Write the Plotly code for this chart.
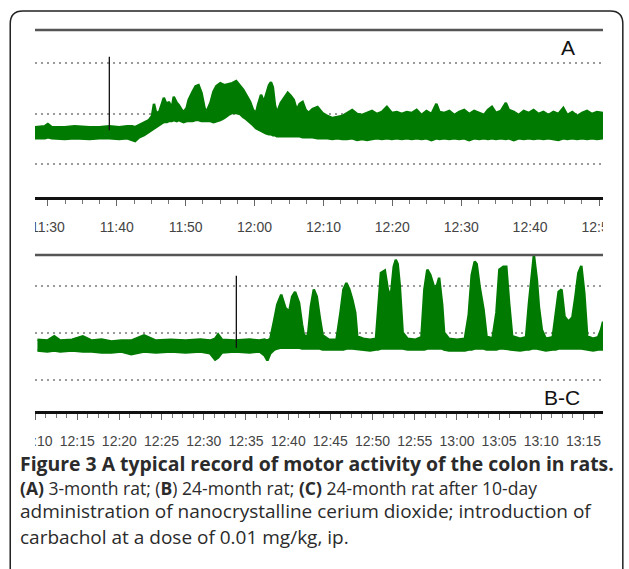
import pandas as pd
import plotly.graph_objects as go

# ---------------- data ----------------
# Panel A: minutes after 11:00, upper / lower envelope of the recorded signal (arb. units)
a_minutes = [28.13, 29.57, 30.0, 30.58, 32.45, 33.88, 36.04, 37.48, 38.92, 40.36, 41.51, 42.23, 42.66,
             43.24, 43.96, 44.68, 45.11, 45.40, 45.68, 46.12, 46.55, 46.83, 47.27, 47.55, 47.99, 48.27,
             48.71, 48.99, 49.42, 49.71, 50.14, 50.43, 51.0, 51.44, 51.87, 52.30, 52.74, 53.02, 53.60,
             54.03, 54.46, 55.03, 55.61, 56.19, 56.76, 57.34, 57.91, 58.35, 58.78, 59.35, 59.78, 60.22,
             60.50, 60.94, 61.37, 61.66, 62.09, 62.38, 62.66, 62.95, 63.24, 63.81, 64.39, 64.82, 65.25,
             65.69, 66.12, 66.55, 66.98, 67.41, 67.84, 68.42, 69.14, 69.86, 70.58, 71.30, 72.01, 72.73,
             73.45, 74.17, 74.89, 75.61, 76.33, 77.05, 77.77, 78.49, 79.21, 79.93, 80.65, 81.37, 82.09,
             82.81, 83.53, 84.24, 84.96, 85.68, 86.40, 86.83, 87.55, 88.27, 88.99, 89.71, 90.43, 91.15,
             91.87, 92.59, 93.31, 93.88, 94.46, 95.04, 95.76, 96.48, 96.91, 97.63, 98.35, 99.07, 99.78,
             100.50, 101.22, 101.94, 102.66, 103.38, 104.10, 104.82, 105.40, 106.12, 106.83, 107.55,
             108.27, 108.99, 109.71, 110.58]
a_upper = [7.3, 7.5, 7.9, 7.3, 7.3, 7.5, 7.3, 7.3, 7.5, 7.3, 7.5, 7.5, 7.3,
           7.7, 8.1, 8.7, 9.5, 11.9, 10.3, 10.1, 11.9, 13.1, 11.7, 12.3, 11.1, 13.3,
           12.1, 11.7, 10.7, 10.3, 11.1, 12.7, 14.3, 15.4, 15.6, 14.1, 11.1, 10.3, 12.1,
           14.3, 15.4, 16.0, 15.6, 15.8, 16.0, 16.4, 15.4, 14.7, 13.7, 12.3, 10.7, 10.1,
           11.7, 13.7, 12.3, 13.5, 15.6, 16.2, 15.2, 11.7, 10.1, 12.1, 13.3, 14.1, 13.5,
           12.7, 10.7, 11.9, 12.3, 10.7, 10.1, 10.9, 11.3, 10.1, 9.5, 9.1, 9.3, 9.5,
           10.1, 10.7, 9.9, 9.7, 10.1, 10.5, 9.9, 10.3, 11.3, 10.1, 10.3, 9.9, 10.3,
           10.1, 10.7, 9.7, 10.5, 9.9, 11.9, 10.3, 10.1, 10.5, 9.7, 10.3, 10.7, 9.9,
           10.5, 10.1, 9.7, 10.7, 11.3, 10.1, 10.5, 12.1, 10.7, 10.3, 9.7, 10.5, 10.1,
           10.7, 9.9, 10.3, 9.7, 10.3, 9.9, 11.1, 9.7, 10.3, 9.5, 10.1,
           10.5, 9.9, 10.3, 10.1]
a_lower = [5.1, 5.1, 5.3, 5.1, 4.95, 5.1, 4.95, 5.1, 5.1, 4.95, 5.1, 4.75, 4.55,
           5.3, 5.7, 6.3, 6.7, 7.1, 7.3, 7.7, 8.1, 8.3, 8.3, 8.5, 8.5, 8.7,
           8.5, 8.7, 8.5, 8.3, 8.5, 8.5, 8.5, 8.7, 8.7, 8.5, 8.5, 8.5, 8.5,
           8.3, 8.5, 8.7, 9.1, 9.7, 10.1, 10.1, 9.9, 9.3, 8.9, 8.3, 7.7, 7.1,
           6.9, 6.5, 6.3, 6.1, 5.9, 5.9, 5.7, 5.7, 5.5, 5.5, 5.5, 5.5, 5.5,
           5.5, 5.5, 5.5, 5.3, 5.3, 5.3, 5.3, 5.1, 5.1, 5.1, 4.95, 5.1, 4.95,
           4.95, 5.1, 4.75, 4.95, 4.75, 4.95, 5.1, 4.95, 5.1, 4.95, 5.1, 4.95, 5.1,
           4.95, 5.1, 4.95, 5.1, 4.75, 5.1, 4.95, 5.1, 4.95, 5.1, 4.95, 5.1, 4.75,
           5.1, 4.95, 5.1, 4.95, 5.1, 4.95, 5.1, 4.95, 5.1, 4.75, 5.1, 4.95, 5.1,
           4.95, 5.1, 4.95, 5.1, 4.95, 4.75, 5.1, 4.95, 5.1, 4.95, 5.1,
           4.95, 5.1, 4.95, 5.1]

# Panel B-C: minutes after 12:00
b_minutes = [10.29, 11.46, 12.28, 12.98, 14.39, 15.67, 16.73, 17.89, 19.06, 20.23, 21.40, 22.92, 24.33,
             26.08, 27.84, 29.59, 30.76, 31.35, 31.70, 32.16, 33.68, 35.44, 36.61, 37.19, 37.54, 37.89,
             38.36, 38.71, 39.18, 39.65, 40.12, 40.47, 40.82, 41.29, 41.64, 41.87, 42.34, 42.69, 43.04,
             43.39, 43.74, 44.09, 44.80, 45.73, 46.20, 46.55, 46.90, 47.25, 47.60, 47.95, 48.19, 48.89,
             49.71, 50.41, 50.64, 50.99, 51.46, 51.81, 52.16, 52.51, 52.75, 52.98, 53.22, 53.57, 54.15,
             55.09, 55.79, 56.14, 56.49, 56.84, 57.31, 57.66, 57.89, 58.25, 58.48, 59.06, 60.00, 60.94,
             61.40, 61.75, 62.11, 62.34, 62.69, 63.16, 63.51, 64.21, 64.68, 65.03, 65.50, 65.85, 66.20,
             66.55, 67.49, 68.19, 68.54, 68.89, 69.12, 69.47, 69.71, 70.06, 70.53, 71.35, 71.70, 72.05,
             72.40, 72.75, 73.22, 73.68, 74.04, 74.39, 74.74, 75.09, 75.44, 76.14, 76.73, 77.08, 77.31]
b_upper = [8.6, 8.4, 9.3, 8.4, 8.6, 9.3, 8.4, 8.6, 8.2, 8.4, 8.4, 9.5, 8.4,
           8.6, 8.4, 8.6, 8.4, 8.8, 9.7, 8.6, 8.4, 8.6, 8.4, 8.6, 8.4, 8.8,
           12.8, 16.0, 18.1, 15.4, 14.5, 17.7, 18.7, 16.4, 11.8, 9.5, 9.3, 15.6, 19.2,
           17.7, 13.3, 9.5, 8.6, 8.6, 14.3, 19.2, 20.6, 19.2, 17.1, 14.3, 9.3, 8.8,
           8.6, 8.8, 14.3, 22.7, 23.2, 19.2, 17.7, 24.0, 25.5, 24.6, 20.2, 10.1, 8.8,
           8.6, 9.1, 19.2, 23.4, 22.3, 19.6, 20.2, 21.7, 16.0, 10.1, 8.8, 8.6, 8.8,
           13.9, 22.3, 25.1, 24.6, 19.8, 14.9, 9.3, 8.8, 14.3, 23.4, 24.0, 24.0, 16.0,
           9.3, 8.8, 9.1, 16.4, 22.7, 26.5, 21.3, 15.6, 10.7, 8.8, 9.1, 13.5, 18.7,
           19.2, 13.5, 12.4, 13.3, 17.7, 22.7, 24.2, 18.5, 9.3, 8.8, 9.1, 10.7, 12.4]
b_lower = [6.3, 6.1, 6.3, 6.1, 6.3, 6.1, 6.1, 5.9, 5.9, 6.1, 5.5, 6.1, 5.9,
           6.1, 5.9, 6.1, 5.7, 4.4, 4.8, 5.9, 6.1, 5.9, 6.1, 5.3, 4.2, 5.7,
           6.5, 6.7, 6.9, 6.9, 6.9, 6.9, 6.9, 6.9, 6.7, 6.7, 6.7, 6.7, 6.7,
           6.7, 6.7, 6.5, 6.5, 6.5, 6.5, 6.5, 6.7, 6.7, 6.7, 6.7, 6.7, 6.5,
           6.3, 6.5, 6.5, 6.7, 6.7, 6.7, 6.7, 6.7, 6.7, 6.7, 6.7, 6.7, 6.5,
           6.5, 6.5, 6.5, 6.7, 6.7, 6.7, 6.7, 6.7, 6.7, 6.5, 6.3, 6.3, 6.3,
           6.5, 6.5, 6.7, 6.7, 6.7, 6.7, 6.5, 6.5, 6.5, 6.7, 6.7, 6.7, 6.7,
           6.5, 6.3, 6.5, 6.5, 6.7, 6.7, 6.7, 6.7, 6.5, 6.3, 6.5, 6.5, 6.7,
           6.7, 6.7, 6.7, 6.7, 6.7, 6.7, 6.7, 6.7, 6.5, 6.3, 6.5, 6.5, 6.5]

# event markers (carbachol injection): minute, y from, y to
a_event = [38.92, 21.2, 6.7]
b_event = [33.86, 22.1, 6.9]

a_range = [28.13, 110.58]
b_range = [10.0, 77.31]
y_range = [-6.5, 26.5]
grid_vals = [0, 10, 20]

panel_labels = ["A", "B-C"]
caption_title = "Figure 3 A typical record of motor activity of the colon in rats."
caption_lines = [
    "<b>(A)</b> 3-month rat; (<b>B</b>) 24-month rat; <b>(C)</b> 24-month rat after 10-day",
    "administration of nanocrystalline cerium dioxide; introduction of",
    "carbachol at a dose of 0.01 mg/kg, ip.",
]

# ---------------- helpers ----------------
GREEN = "rgb(0,122,0)"
base_a = pd.Timestamp("2000-01-01 11:00")
base_b = pd.Timestamp("2000-01-01 12:00")


def to_time(base, mins):
    return [base + pd.to_timedelta(m, unit="m") for m in mins]


fig = go.Figure()

for base, mins, up, lo, ev, xa, ya in [
    (base_a, a_minutes, a_upper, a_lower, a_event, "x", "y"),
    (base_b, b_minutes, b_upper, b_lower, b_event, "x2", "y2"),
]:
    t = to_time(base, mins)
    fig.add_trace(go.Scatter(
        x=t + t[::-1], y=up + lo[::-1], fill="toself", mode="lines",
        fillcolor=GREEN, line=dict(color=GREEN, width=2.5),
        xaxis=xa, yaxis=ya, showlegend=False, hoverinfo="skip"))
    te = to_time(base, [ev[0]])[0]
    fig.add_trace(go.Scatter(
        x=[te, te], y=[ev[1], ev[2]], mode="lines",
        line=dict(color="#111", width=1.3), xaxis=xa, yaxis=ya,
        showlegend=False, hoverinfo="skip"))

tick_font = dict(family="Liberation Sans, Arial, sans-serif", size=14, color="#444")

common_x = dict(type="date", tickformat="%H:%M", showline=True, linecolor="#111", linewidth=3,
                ticks="outside", ticklen=6, tickcolor="#666", tickwidth=1, showgrid=False,
                zeroline=False, tickfont=tick_font, ticklabelstandoff=9)
common_y = dict(range=y_range, showticklabels=False, ticks="", showline=False, zeroline=False,
                showgrid=True, tickmode="array", tickvals=grid_vals, gridcolor="#9a9a9a",
                gridwidth=2, griddash="2px,4px")

fig.update_layout(
    width=629, height=569,
    margin=dict(l=35, r=21, t=30, b=158),
    paper_bgcolor="white", plot_bgcolor="white",
    xaxis=dict(common_x, domain=[0, 1], anchor="y",
               range=to_time(base_a, a_range), dtick=600000,
               tick0="2000-01-01 11:00",
               minor=dict(dtick=150000, ticklen=4, tickcolor="#777", ticks="outside",
                          tick0="2000-01-01 11:00")),
    yaxis=dict(common_y, domain=[0.5617, 1], anchor="x"),
    xaxis2=dict(common_x, domain=[0, 1], anchor="y2",
                range=to_time(base_b, b_range), dtick=300000,
                tick0="2000-01-01 12:00",
                minor=dict(dtick=75000, ticklen=4, tickcolor="#777", ticks="outside",
                           tick0="2000-01-01 12:00")),
    yaxis2=dict(common_y, domain=[0, 0.4094], anchor="x2"),
)

# top border lines of each panel
for xr, yr in [("x domain", "y domain"), ("x2 domain", "y2 domain")]:
    fig.add_shape(type="line", xref=xr, yref=yr, x0=0, x1=1, y0=1, y1=1,
                  line=dict(color="#555", width=2.5))

# white covers clipping the edge labels
for x0, x1, y0, y1 in [(-0.04, 0, 0.452, 0.524), (1.0, 1.03, 0.452, 0.524),
                       (-0.04, 0, -0.104, -0.035)]:
    fig.add_shape(type="rect", xref="paper", yref="paper", x0=x0, x1=x1, y0=y0, y1=y1,
                  fillcolor="white", line=dict(width=0), layer="above")

# rounded outer frame
x0, x1, yt, yb = -0.0436, 1.0349, 1.0499, -0.45
rx, ry = 0.022, 0.034
fig.add_shape(type="path", xref="paper", yref="paper",
              path=(f"M {x0},{yb} L {x0},{yt-ry} Q {x0},{yt} {x0+rx},{yt} "
                    f"L {x1-rx},{yt} Q {x1},{yt} {x1},{yt-ry} L {x1},{yb}"),
              line=dict(color="#222", width=1.5), layer="above")

# panel labels
label_font = dict(family="Liberation Sans, Arial, sans-serif", size=21, color="#111")
fig.add_annotation(text=panel_labels[0], xref="paper", yref="paper", x=0.939, y=0.9528,
                   showarrow=False, font=label_font, xanchor="center", yanchor="middle")
fig.add_annotation(text=panel_labels[1], xref="paper", yref="paper", x=0.9284, y=0.0367,
                   showarrow=False, font=label_font, xanchor="center", yanchor="middle")

# caption
cap_x = -0.0297
cap_font = "Open Sans, Noto Sans, sans-serif"
fig.add_annotation(text="<b>" + caption_title + "</b>", xref="paper", yref="paper",
                   x=cap_x, y=-0.1365, xanchor="left", yanchor="middle", showarrow=False,
                   font=dict(family=cap_font, size=19.4, color="#2b2b2b"))
for i, line in enumerate(caption_lines):
    fig.add_annotation(text=line, xref="paper", yref="paper",
                       x=cap_x, y=[-0.2021, -0.2625, -0.3307][i], xanchor="left", yanchor="middle",
                       showarrow=False,
                       font=dict(family=cap_font, size=[17.5, 19, 19][i], color="#2b2b2b"))

fig.write_html("out.html")
